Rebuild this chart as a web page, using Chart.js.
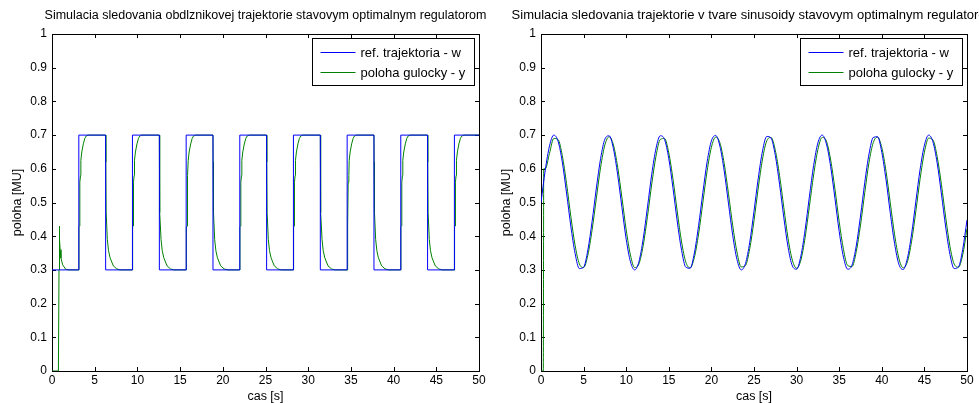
<!DOCTYPE html>
<html>
<head>
<meta charset="utf-8">
<script src="https://cdn.jsdelivr.net/npm/chart.js@4.4.1/dist/chart.umd.min.js"></script>
<style>
  body { margin: 0; background: #fff; overflow: hidden; }
  .panel { position: absolute; top: 0; }
</style>
</head>
<body>
<canvas id="squareChart" class="panel" width="490" height="403" style="left:0"></canvas>
<canvas id="sineChart" class="panel" width="490" height="403" style="left:489px"></canvas>
<script>
// --- square trajectory (left) ---
// reference w: switch instants and level held after each one
const wSqTime = [0, 3.14, 6.28, 9.42, 12.57, 15.71, 18.85, 21.99, 25.13, 28.27, 31.42, 34.56, 37.70, 40.84, 43.98, 47.12, 50];
const wSqLevel = [0.3, 0.7, 0.3, 0.7, 0.3, 0.7, 0.3, 0.7, 0.3, 0.7, 0.3, 0.7, 0.3, 0.7, 0.3, 0.7, 0.7];

// ball position y: start-up, then the response read after a rise / a fall
const ySqStartT = [0, 0.75, 0.82, 0.86, 0.9, 0.95, 1.05, 1.25, 1.6, 2.0];
const ySqStartV = [0, 0, 0.3, 0.43, 0.39, 0.36, 0.335, 0.315, 0.302, 0.3];
const riseDt = [0, 0.02, 0.1, 0.12, 0.2, 0.24, 0.35, 0.53, 0.7, 0.85, 1.1];
const riseV = [0.3, 0.428, 0.43, 0.56, 0.58, 0.625, 0.65, 0.674, 0.69, 0.697, 0.7];
const fallDt = [0, 0.02, 0.06, 0.2, 0.34, 0.52, 0.9, 1.3, 1.7];
const fallV = [0.7, 0.62, 0.47, 0.39, 0.357, 0.336, 0.312, 0.303, 0.3];

// --- sine trajectory (right), sampled every 0.5 s ---
const sineTime = Array.from({ length: 101 }, (_, i) => i * 0.5);
const wSin = [
  0.500, 0.596, 0.668, 0.700, 0.682, 0.620, 0.528, 0.430, 0.349, 0.304,
  0.308, 0.359, 0.444, 0.543, 0.631, 0.688, 0.698, 0.660, 0.582, 0.485,
  0.391, 0.324, 0.300, 0.325, 0.393, 0.487, 0.584, 0.661, 0.698, 0.687,
  0.630, 0.541, 0.442, 0.358, 0.308, 0.305, 0.350, 0.432, 0.530, 0.621,
  0.683, 0.699, 0.667, 0.594, 0.498, 0.403, 0.331, 0.300, 0.319, 0.382,
  0.474, 0.572, 0.653, 0.696, 0.691, 0.640, 0.554, 0.455, 0.367, 0.312,
  0.302, 0.341, 0.419, 0.517, 0.610, 0.677, 0.700, 0.674, 0.606, 0.512,
  0.414, 0.338, 0.302, 0.314, 0.371, 0.460, 0.559, 0.644, 0.693, 0.695,
  0.649, 0.567, 0.468, 0.378, 0.317, 0.301, 0.334, 0.407, 0.504, 0.599,
  0.670, 0.700, 0.680, 0.617, 0.525, 0.427, 0.346, 0.304, 0.309, 0.361,
  0.448
];
const ySinStartT = [0, 0.27, 0.32];
const ySinStartV = [0, 0, 0.6];
// y from t = 0.5 s onwards (same grid as sineTime)
const ySin = [
  0.600, 0.646, 0.690, 0.687, 0.639, 0.556, 0.459, 0.373, 0.318,
  0.307, 0.344, 0.419, 0.513, 0.605, 0.671, 0.695, 0.671, 0.605, 0.514,
  0.419, 0.344, 0.307, 0.318, 0.373, 0.459, 0.555, 0.638, 0.687, 0.690,
  0.647, 0.568, 0.472, 0.383, 0.323, 0.306, 0.337, 0.407, 0.501, 0.594,
  0.664, 0.694, 0.677, 0.616, 0.527, 0.432, 0.353, 0.309, 0.313, 0.363,
  0.446, 0.543, 0.629, 0.683, 0.693, 0.655, 0.580, 0.485, 0.393, 0.329,
  0.305, 0.329, 0.396, 0.488, 0.582, 0.657, 0.693, 0.682, 0.626, 0.540,
  0.443, 0.361, 0.313, 0.310, 0.354, 0.433, 0.529, 0.619, 0.678, 0.694,
  0.663, 0.592, 0.498, 0.405, 0.335, 0.306, 0.324, 0.385, 0.475, 0.571,
  0.649, 0.691, 0.686, 0.636, 0.553, 0.456, 0.370, 0.317, 0.308, 0.345,
  0.422
];

const xTicks = [0, 5, 10, 15, 20, 25, 30, 35, 40, 45, 50];
const yTicks = [0, 0.1, 0.2, 0.3, 0.4, 0.5, 0.6, 0.7, 0.8, 0.9, 1];

const FONT = '"Liberation Sans", Arial, Helvetica, sans-serif';
const BLUE = '#0000ff';
const GREEN = '#008000';

function zipPoints(xs, ys) {
  return xs.map((x, i) => ({ x: x, y: ys[i] }));
}

function squareResponse() {
  let pts = zipPoints(ySqStartT, ySqStartV);
  for (let i = 1; i < wSqTime.length - 1; i++) {
    const rising = wSqLevel[i] > wSqLevel[i - 1];
    const dts = rising ? riseDt : fallDt;
    const vals = rising ? riseV : fallV;
    dts.forEach((dt, k) => pts.push({ x: wSqTime[i] + dt, y: vals[k] }));
  }
  pts.push({ x: 50, y: wSqLevel[wSqLevel.length - 1] });
  return pts;
}

// MATLAB-like box, inward ticks, title and legend
const matlabAxes = {
  id: 'matlabAxes',
  beforeDatasetsDraw(chart) {
    const { ctx, chartArea: a, scales } = chart;
    ctx.save();
    ctx.strokeStyle = '#000';
    ctx.lineWidth = 1;
    ctx.beginPath();
    xTicks.forEach(v => {
      const px = Math.round(scales.x.getPixelForValue(v)) + 0.5;
      ctx.moveTo(px, a.bottom); ctx.lineTo(px, a.bottom - 4);
      ctx.moveTo(px, a.top); ctx.lineTo(px, a.top + 4);
    });
    yTicks.forEach(v => {
      const py = Math.round(scales.y.getPixelForValue(v)) + 0.5;
      ctx.moveTo(a.left, py); ctx.lineTo(a.left + 4, py);
      ctx.moveTo(a.right, py); ctx.lineTo(a.right - 4, py);
    });
    ctx.stroke();
    ctx.strokeRect(a.left + 0.5, a.top + 0.5, a.right - a.left, a.bottom - a.top);
    ctx.restore();
  },
  afterDraw(chart, args, opts) {
    const { ctx, chartArea: a } = chart;
    ctx.save();
    ctx.fillStyle = '#000';
    ctx.font = opts.titleSize + 'px ' + FONT;
    ctx.textAlign = 'center';
    ctx.textBaseline = 'alphabetic';
    ctx.fillText(opts.title, (a.left + a.right) / 2, 19);

    const w = 162, h = 47;
    const left = Math.round(a.right - 5 - w) + 0.5;
    const top = Math.round(a.top + 4) + 0.5;
    ctx.fillStyle = '#fff';
    ctx.fillRect(left, top, w, h);
    ctx.strokeStyle = '#000';
    ctx.lineWidth = 1;
    ctx.strokeRect(left, top, w, h);
    ctx.font = '13px ' + FONT;
    ctx.textAlign = 'left';
    ctx.textBaseline = 'middle';
    chart.data.datasets.forEach((ds, i) => {
      const rowY = Math.floor(top + 14 + i * 20) + 0.5;
      ctx.strokeStyle = ds.borderColor;
      ctx.beginPath();
      ctx.moveTo(left + 8, rowY);
      ctx.lineTo(left + 43, rowY);
      ctx.stroke();
      ctx.fillStyle = '#000';
      ctx.fillText(ds.label, left + 48, rowY + 0.5);
    });
    ctx.restore();
  }
};

function makeOptions(titleText, titleSize, rightPad) {
  return {
    responsive: false,
    animation: false,
    devicePixelRatio: 1,
    layout: { padding: { top: 34, left: 0, right: rightPad, bottom: 0 } },
    plugins: {
      legend: { display: false },
      tooltip: { enabled: false },
      matlabAxes: { title: titleText, titleSize: titleSize }
    },
    elements: { point: { radius: 0 }, line: { borderWidth: 1 } },
    scales: {
      x: {
        type: 'linear', min: 0, max: 50,
        grid: { display: false, drawTicks: false },
        border: { display: false },
        afterBuildTicks: scale => { scale.ticks = xTicks.map(v => ({ value: v })); },
        ticks: { color: '#000', padding: 4, maxRotation: 0, autoSkip: false,
                 font: { family: FONT, size: 12, lineHeight: 1 } },
        title: { display: true, text: 'cas [s]', color: '#000', padding: 0,
                 font: { family: FONT, size: 12.5, lineHeight: 1 } },
        afterFit: scale => { scale.height = 32; }
      },
      y: {
        type: 'linear', min: 0, max: 1,
        grid: { display: false, drawTicks: false },
        border: { display: false },
        afterBuildTicks: scale => { scale.ticks = yTicks.map(v => ({ value: v })); },
        ticks: { color: '#000', padding: 5, autoSkip: false,
                 callback: v => String(Math.round(v * 10) / 10),
                 font: { family: FONT, size: 12, lineHeight: 1 } },
        title: { display: true, text: 'poloha [MU]', color: '#000', padding: { top: 11, bottom: 0 },
                 font: { family: FONT, size: 12.5, lineHeight: 1 } },
        afterFit: scale => { scale.width = 52; }
      }
    }
  };
}

new Chart(document.getElementById('squareChart'), {
  type: 'line',
  data: {
    datasets: [
      { label: 'ref. trajektoria - w', data: zipPoints(wSqTime, wSqLevel), borderColor: BLUE, stepped: 'before' },
      { label: 'poloha gulocky - y', data: squareResponse(), borderColor: GREEN }
    ]
  },
  options: makeOptions('Simulacia sledovania obdlznikovej trajektorie stavovym optimalnym regulatorom', 12.5, 11),
  plugins: [matlabAxes]
});

new Chart(document.getElementById('sineChart'), {
  type: 'line',
  data: {
    datasets: [
      { label: 'ref. trajektoria - w', data: zipPoints(sineTime, wSin), borderColor: BLUE,
        cubicInterpolationMode: 'monotone' },
      { label: 'poloha gulocky - y',
        data: zipPoints(ySinStartT, ySinStartV).concat(zipPoints(sineTime.slice(1), ySin)),
        borderColor: GREEN, cubicInterpolationMode: 'monotone' }
    ]
  },
  options: makeOptions('Simulacia sledovania trajektorie v tvare sinusoidy stavovym optimalnym regulatorom', 13, 12),
  plugins: [matlabAxes]
});
</script>
</body>
</html>
